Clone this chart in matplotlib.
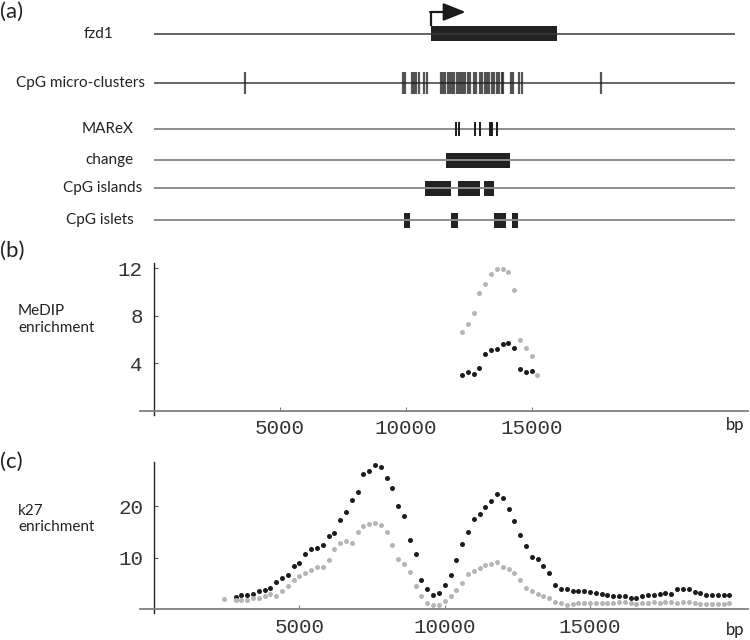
import numpy as np
import matplotlib
matplotlib.use("Agg")
import matplotlib.pyplot as plt

# ---- data ----
track_names = ["fzd1", "CpG micro-clusters", "MAReX", "change", "CpG islands", "CpG islets"]
fzd1_gene = [(9520, 13860)]
cpg_micro = [3130, 8580, 8650, 8880, 8950, 9020, 9100, 9270, 9380, 9870, 9930,
             10010, 10110, 10190, 10250, 10320, 10420, 10500, 10560, 10640, 10710,
             10800, 10870, 11010, 11090, 11220, 11290, 11370, 11450, 11540, 11620,
             11680, 11790, 11880, 11960, 12020, 12270, 12360, 12560, 12650, 15380]
marex = [10390, 10490, 11050, 11220, 11550, 11640, 11810]
change = [(10050, 12250)]
cpg_islands = [(9310, 10210), (10450, 11220), (11350, 11700)]
cpg_islets = [(8600, 8810), (10200, 10450), (11690, 12110), (12300, 12530)]

medip_x = [12220, 12450, 12690, 12910, 13150, 13370, 13600, 13840, 14060, 14290,
           14520, 14750, 14990, 15210]
medip_gray = [6.6, 7.3, 8.2, 9.9, 10.7, 11.5, 11.9, 11.9, 11.7, 10.2, 6.0, 5.3, 4.6, 3.0]
medip_black = [3.0, 3.3, 3.1, 3.6, 4.8, 5.1, 5.2, 5.6, 5.7, 5.3, 3.5, 3.3, 3.4, np.nan]

k27_x = [2400, 2800, 3000, 3200, 3400, 3600, 3800, 4000, 4200, 4400, 4600,
         4800, 5000, 5200, 5400, 5600, 5800, 6000, 6200, 6400, 6600,
         6800, 7000, 7200, 7400, 7600, 7800, 8000, 8200, 8400, 8600,
         8800, 9000, 9200, 9400, 9600, 9800, 10000, 10200, 10400, 10600,
         10800, 11000, 11200, 11400, 11600, 11800, 12000, 12200, 12400, 12600,
         12800, 13000, 13200, 13400, 13600, 13800, 14000, 14200, 14400, 14600,
         14800, 15000, 15200, 15400, 15600, 15800, 16000, 16200, 16400, 16600,
         16800, 17000, 17200, 17400, 17600, 17800, 18000, 18200, 18400, 18600,
         18800, 19000, 19200, 19400, 19600, 19800]
k27_black = [np.nan,
             2.4, 2.7, 2.7, 3.0, 3.5, 3.8, 4.2, 5.4, 6.1, 6.6,
             8.4, 9.0, 10.8, 11.7, 11.9, 12.5, 14.2, 14.8, 17.4, 18.8,
             21.2, 22.8, 26.2, 26.8, 27.9, 27.6, 25.5, 23.6, 20.1, 18.0,
             13.4, 10.8, 5.7, 3.9, 2.7, 3.1, 4.7, 6.7, 9.5, 12.7,
             15.0, 17.6, 18.5, 19.9, 21.0, 22.3,
             21.5, 19.5, 17.1, 14.5, 12.3, 10.2, 9.7, 8.4, 7.0, 4.8,
             3.9, 3.9, 3.6, 3.6, 3.6, 3.4, 3.2, 3.0, 2.7, 2.6,
             2.5, 2.5, 2.3, 2.3, 2.6, 2.8, 2.8, 2.9, 3.2, 3.0,
             4.0, 4.0, 3.9, 3.4, 3.2, 2.8, 2.8, 2.7, 2.7, 2.7]
k27_gray = [2.1,
            1.9, 1.9, 1.9, 2.3, 2.2, 2.6, 2.9, 2.5, 3.6, 4.6,
            5.7, 6.4, 7.1, 7.7, 8.3, 8.3, 9.6, 11.6, 12.8, 13.2,
            12.9, 14.9, 16.1, 16.6, 16.7, 16.3, 14.9, 12.5, 9.7, 8.7,
            7.3, 4.5, 2.5, 1.2, 0.8, 0.8, 1.7, 2.6, 3.8, 5.2,
            6.8, 7.4, 8.1, 8.5, 8.7, 9.1,
            8.3, 7.8, 7.0, 5.6, 4.2, 3.6, 2.9, 2.6, 2.2, 1.4,
            1.2, 0.9, 1.0, 1.2, 1.2, 1.3, 1.3, 1.3, 1.2, 1.3,
            1.4, 1.4, 1.2, 1.1, 1.2, 1.2, 1.4, 1.2, 1.4, 1.4,
            1.3, 1.4, 1.4, 1.2, 1.1, 1.0, 1.0, 1.0, 1.0, 1.2]

xticks = [5000, 10000, 15000]
medip_yticks = [4, 8, 12]
k27_yticks = [10, 20]

# ---- layout (pixels of a 750x640 canvas) ----
W, H = 750, 640
BLACK = "#1c1c1c"
GRAY = "#b5b5b5"
SANS = "Lato"
MONO = "Liberation Mono"


def box(x0, y0, x1, y1):
    return [x0 / W, 1 - y1 / H, (x1 - x0) / W, (y1 - y0) / H]


def ftext(x, y, s, **kw):
    fig.text(x / W, 1 - y / H, s, **kw)


fig = plt.figure(figsize=(7.5, 6.4), dpi=100)

# (a) gene tracks
ax = fig.add_axes(box(140, 0, 748, 240))
ax.set_xlim(-489, 20440)
ax.set_ylim(240, 0)
ax.axis("off")

track_y = [33.5, 82.5, 129, 160, 188, 220]
label_x = [98, 80, 108, 109, 103, 100]
for name, y, lx in zip(track_names, track_y, label_x):
    ftext(lx, y, name, ha="center", va="center", fontsize=11, family=SANS, color="#222222")

ax.hlines(track_y[:2], 0, 20000, color="#3a3a3a", lw=1.1)
ax.hlines(track_y[2:], 0, 20000, color="#8c8c8c", lw=1.4)

box_h = 15
for y, spans in [(track_y[0], fzd1_gene), (track_y[3], change),
                 (track_y[4], cpg_islands), (track_y[5], cpg_islets)]:
    ax.broken_barh([(s, e - s) for s, e in spans], (y - box_h / 2, box_h),
                   facecolor="#222222", edgecolor="none")

ax.vlines(cpg_micro, track_y[1] - 11, track_y[1] + 11, color="#1e1e1e", lw=1.6, alpha=0.75)
ax.vlines(marex, track_y[2] - 7, track_y[2] + 7, color="#1a1a1a", lw=1.4)

# transcription start arrow
tss = fzd1_gene[0][0]
ax.plot([tss, tss], [track_y[0] - box_h / 2, 12], color="#1a1a1a", lw=1.6,
        solid_capstyle="butt")
ax.annotate("", xy=(10720, 12), xytext=(tss - 20, 12),
            arrowprops=dict(arrowstyle="-|>,head_length=0.4,head_width=0.16",
                            mutation_scale=34, color="#1a1a1a", lw=1.6,
                            shrinkA=0, shrinkB=0))


def style_axes(a):
    for s in ["top", "right"]:
        a.spines[s].set_visible(False)
    a.spines["left"].set_position(("data", 0))
    a.spines["bottom"].set_position(("data", 0))
    a.spines["left"].set_color("#222222")
    a.spines["left"].set_linewidth(1.0)
    a.spines["bottom"].set_color("#808080")
    a.spines["bottom"].set_linewidth(1.3)
    a.set_xticks(xticks)
    a.set_xticklabels([str(v) for v in xticks])
    a.tick_params(axis="x", direction="in", length=3, width=0.8, color="#808080",
                  pad=6, labelsize=15, labelcolor="#333333", labelfontfamily=MONO)
    a.tick_params(axis="y", direction="in", length=3, width=0.8, color="#555555",
                  pad=8, labelsize=15, labelcolor="#333333", labelfontfamily=MONO)


# (b) MeDIP
axb = fig.add_axes(box(140, 263.3, 748, 415))
axb.set_xlim(-556, 23571)
axb.set_ylim(-0.33, 12.4)
style_axes(axb)
axb.set_yticks(medip_yticks)
axb.plot(medip_x, medip_gray, "o", color=GRAY, ms=3.6, mew=0)
axb.plot(medip_x, medip_black, "o", color=BLACK, ms=3.6, mew=0)

# (c) k27
axc = fig.add_axes(box(140, 461.7, 748, 613))
axc.set_xlim(-489, 20440)
axc.set_ylim(-0.7, 28.6)
style_axes(axc)
axc.set_yticks(k27_yticks)
axc.plot(k27_x, k27_black, "o", color=BLACK, ms=3.6, mew=0)
axc.plot(k27_x, k27_gray, "o", color=GRAY, ms=3.6, mew=0)

# texts
for lbl, y in [("(a)", 12), ("(b)", 251), ("(c)", 462)]:
    ftext(0, y, lbl, ha="left", va="center", fontsize=16, family=SANS, color="#222222")
ftext(18, 319.5, "MeDIP\nenrichment", ha="left", va="center", fontsize=11,
      family=SANS, color="#222222", linespacing=1.25)
ftext(18, 519, "k27\nenrichment", ha="left", va="center", fontsize=11,
      family=SANS, color="#222222", linespacing=1.25)
ftext(735, 425, "bp", ha="center", va="center", fontsize=12, family=SANS, color="#222222")
ftext(735, 630, "bp", ha="center", va="center", fontsize=12, family=SANS, color="#222222")

fig.savefig("out.png", dpi=100, facecolor="white")
